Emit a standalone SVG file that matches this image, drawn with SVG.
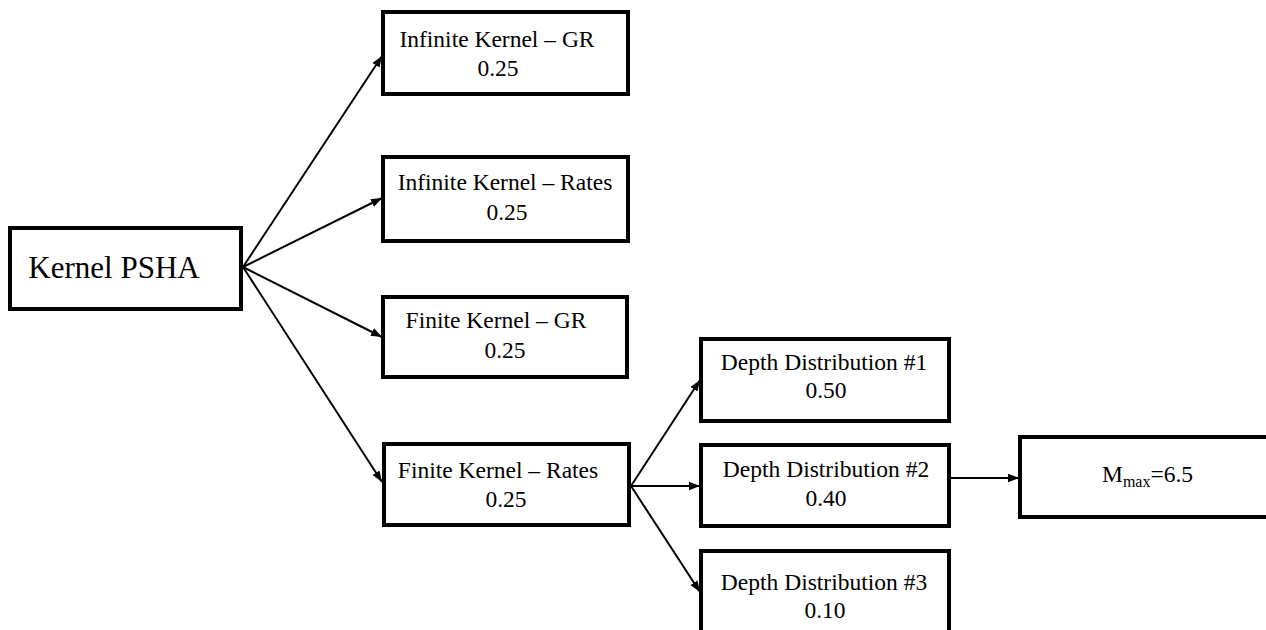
<svg xmlns="http://www.w3.org/2000/svg" width="1266" height="630" viewBox="0 0 1266 630">
<style>
.box{fill:#fff;stroke:#000;stroke-width:4}
.t{font-family:"Liberation Serif","Times New Roman",serif;font-size:23.5px;fill:#000;text-anchor:middle}
.big{font-size:31px}
.sub{font-size:16px}
.c{fill:none;stroke:#000;stroke-width:2;marker-end:url(#ah)}
</style>
<defs>
<marker id="ah" markerUnits="userSpaceOnUse" markerWidth="12" markerHeight="10" refX="11" refY="5" orient="auto">
<path d="M0,0.8 L11,5 L0,9.2 Z" fill="#000"/>
</marker>
</defs>
<rect width="1266" height="630" fill="#fff"/>
<g id="connectors">
<line class="c" x1="243" y1="267" x2="382" y2="56"/>
<line class="c" x1="243" y1="267" x2="382" y2="198"/>
<line class="c" x1="243" y1="267" x2="382" y2="337"/>
<line class="c" x1="243" y1="267" x2="382" y2="482"/>
<line class="c" x1="631" y1="486" x2="700" y2="380"/>
<line class="c" x1="631" y1="486" x2="700" y2="486"/>
<line class="c" x1="631" y1="486" x2="700" y2="592"/>
<line class="c" x1="951" y1="478" x2="1019" y2="478"/>
</g>
<g id="kernel-psha">
<rect class="box" x="10" y="228" width="231" height="81"/>
<text class="t big" x="114" y="278">Kernel PSHA</text>
</g>
<g id="inf-gr">
<rect class="box" x="383" y="12" width="245" height="82"/>
<text class="t" x="497" y="47">Infinite Kernel – GR</text>
<text class="t" x="498" y="76">0.25</text>
</g>
<g id="inf-rates">
<rect class="box" x="383" y="157" width="245" height="84"/>
<text class="t" x="505" y="190">Infinite Kernel – Rates</text>
<text class="t" x="507" y="220">0.25</text>
</g>
<g id="fin-gr">
<rect class="box" x="383" y="297" width="244" height="80"/>
<text class="t" x="496" y="328">Finite Kernel – GR</text>
<text class="t" x="505" y="358">0.25</text>
</g>
<g id="fin-rates">
<rect class="box" x="384" y="444" width="245" height="81"/>
<text class="t" x="498" y="478">Finite Kernel – Rates</text>
<text class="t" x="506" y="507">0.25</text>
</g>
<g id="depth1">
<rect class="box" x="701" y="339" width="248" height="82"/>
<text class="t" x="824" y="370">Depth Distribution #1</text>
<text class="t" x="826" y="398">0.50</text>
</g>
<g id="depth2">
<rect class="box" x="701" y="445" width="248" height="81"/>
<text class="t" x="826" y="477">Depth Distribution #2</text>
<text class="t" x="826" y="506">0.40</text>
</g>
<g id="depth3">
<rect class="box" x="701" y="551" width="248" height="100"/>
<text class="t" x="824" y="590">Depth Distribution #3</text>
<text class="t" x="825" y="618">0.10</text>
</g>
<g id="mmax">
<rect class="box" x="1020" y="437" width="248" height="80"/>
<text class="t" x="1102" y="482" text-anchor="start" style="text-anchor:start">M<tspan class="sub" dy="5">max</tspan><tspan dy="-5">=6.5</tspan></text>
</g>
</svg>
